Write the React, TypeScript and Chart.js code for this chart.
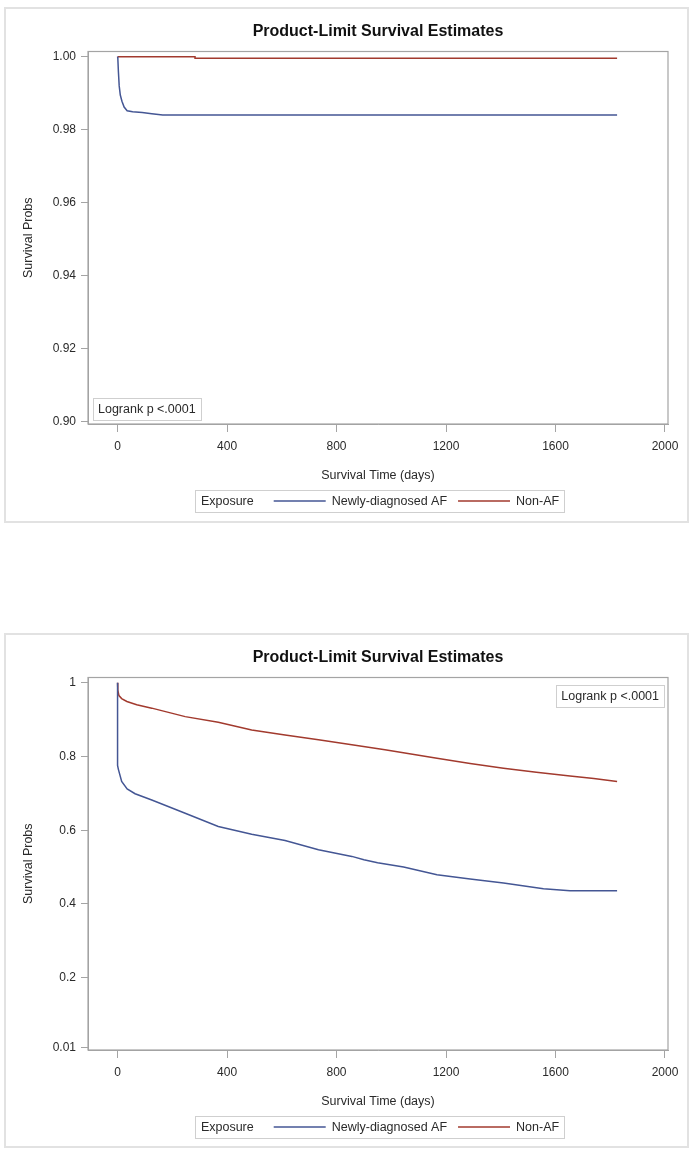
import React, { useEffect, useRef } from "react";
import { Chart, registerables } from "chart.js";

Chart.register(...registerables);

const FONT = "'Liberation Sans', Arial, Helvetica, sans-serif";

const chartTitle = "Product-Limit Survival Estimates";
const xAxisTitle = "Survival Time (days)";
const yAxisTitle = "Survival Probs";
const legendTitle = "Exposure";
const seriesNames = ["Newly-diagnosed AF", "Non-AF"];
const seriesColors = ["#445694", "#A23A2E"];
const logrankLabel = "Logrank p <.0001";

const xTickValues = [0, 400, 800, 1200, 1600, 2000];
const xTickLabels = ["0", "400", "800", "1200", "1600", "2000"];

const topYTickValues = [0.9, 0.92, 0.94, 0.96, 0.98, 1.0];
const topYTickLabels = ["0.90", "0.92", "0.94", "0.96", "0.98", "1.00"];
const bottomYTickValues = [0.01, 0.2, 0.4, 0.6, 0.8, 1];
const bottomYTickLabels = ["0.01", "0.2", "0.4", "0.6", "0.8", "1"];

// Top panel
const topAfDays = [0, 1, 3, 6, 10, 16, 24, 35, 55, 90, 125, 165, 1825];
const topAfSurv = [1.0, 0.9995, 0.996, 0.992, 0.9895, 0.9878, 0.9862, 0.9852, 0.9849, 0.9847, 0.9844, 0.984, 0.984];
const topNonAfDays = [0, 283, 283, 1825];
const topNonAfSurv = [1.0, 0.99995, 0.99955, 0.99955];

// Bottom panel
const bottomAfDays = [0, 0, 3, 15, 35, 64, 125, 247, 368, 490, 612, 734, 856, 900, 950, 1045, 1167, 1288, 1410, 1556, 1653, 1825];
const bottomAfSurv = [1.0, 0.776, 0.765, 0.732, 0.712, 0.699, 0.682, 0.646, 0.61, 0.589, 0.572, 0.547, 0.529, 0.52, 0.512, 0.5, 0.479, 0.468, 0.457, 0.441, 0.436, 0.436];
const bottomNonAfDays = [0, 1, 5, 15, 34, 70, 125, 247, 368, 490, 612, 734, 856, 977, 1100, 1167, 1288, 1410, 1530, 1653, 1740, 1825];
const bottomNonAfSurv = [1.0, 0.98, 0.965, 0.957, 0.949, 0.94, 0.931, 0.908, 0.893, 0.872, 0.858, 0.845, 0.832, 0.818, 0.803, 0.795, 0.781, 0.768, 0.757, 0.747, 0.74, 0.732];

const CANVAS_W = 700;
const CANVAS_H = 529;
const FRAME_COLOR = "#a4a4a4";
const TEXT_COLOR = "#2a2a2a";

type PanelProps = {
  top: number;
  afDays: number[];
  afSurv: number[];
  nonDays: number[];
  nonSurv: number[];
  yTickValues: number[];
  yTickLabels: string[];
  yMin: number;
  yMax: number;
  logrankCorner: "bottom-left" | "top-right";
};

function Panel(p: PanelProps) {
  const ref = useRef<HTMLCanvasElement>(null);
  useEffect(() => {
    const canvas = ref.current!;
    const decor = {
      id: "sasDecor",
      beforeDatasetsDraw(chart: any) {
        const { ctx, chartArea: a } = chart;
        ctx.save();
        ctx.strokeStyle = FRAME_COLOR;
        ctx.lineWidth = 1.2;
        ctx.strokeRect(a.left, a.top, a.right - a.left, a.bottom - a.top);
        ctx.restore();
      },
      afterDraw(chart: any) {
        const { ctx, chartArea: a } = chart;
        const cx = (a.left + a.right) / 2;
        ctx.save();
        // title
        ctx.font = `bold 16px ${FONT}`;
        ctx.fillStyle = "#111";
        ctx.textAlign = "center";
        ctx.textBaseline = "middle";
        ctx.fillText(chartTitle, cx, 32);

        // logrank box
        ctx.font = `12.5px ${FONT}`;
        ctx.textAlign = "left";
        const lw = ctx.measureText(logrankLabel).width + 10;
        const lh = 22;
        let lx: number, ly: number;
        if (p.logrankCorner === "bottom-left") {
          lx = a.left + 5;
          ly = a.bottom - 4 - lh;
        } else {
          lx = a.right - 4 - lw;
          ly = a.top + 7.5;
        }
        ctx.fillStyle = "#fff";
        ctx.fillRect(lx, ly, lw, lh);
        ctx.strokeStyle = "#cfcfcf";
        ctx.lineWidth = 1;
        ctx.strokeRect(Math.round(lx) + 0.5, Math.round(ly) + 0.5, Math.round(lw), lh);
        ctx.fillStyle = TEXT_COLOR;
        ctx.fillText(logrankLabel, lx + 5, ly + lh / 2 + 0.5);

        // legend
        const wTitle = ctx.measureText(legendTitle).width;
        const w1 = ctx.measureText(seriesNames[0]).width;
        const w2 = ctx.measureText(seriesNames[1]).width;
        const padL = 6, gapTitle = 20, lineLen = 52, gapLine = 6, gapItem = 11, padR = 5;
        const total = padL + wTitle + gapTitle + lineLen + gapLine + w1 + gapItem + lineLen + gapLine + w2 + padR;
        const bx = cx + 1.5 - total / 2;
        const by = 490;
        const bh = 22;
        const my = by + bh / 2;
        ctx.fillStyle = "#fff";
        ctx.fillRect(bx, by, total, bh);
        ctx.strokeStyle = "#cfcfcf";
        ctx.strokeRect(Math.round(bx) + 0.5, by + 0.5, Math.round(total), bh);
        let x = bx + padL;
        ctx.fillStyle = TEXT_COLOR;
        ctx.fillText(legendTitle, x, my + 0.5);
        x += wTitle + gapTitle;
        for (let i = 0; i < 2; i++) {
          ctx.strokeStyle = seriesColors[i];
          ctx.lineWidth = 1.5;
          ctx.beginPath();
          ctx.moveTo(x, my);
          ctx.lineTo(x + lineLen, my);
          ctx.stroke();
          x += lineLen + gapLine;
          ctx.fillStyle = TEXT_COLOR;
          ctx.fillText(seriesNames[i], x, my + 0.5);
          x += (i === 0 ? w1 : w2) + gapItem;
        }
        ctx.restore();
      },
    };

    const mk = (days: number[], surv: number[]) => days.map((d, i) => ({ x: d, y: surv[i] }));

    const chart = new Chart(canvas, {
      type: "line",
      data: {
        datasets: [
          {
            label: seriesNames[0],
            data: mk(p.afDays, p.afSurv),
            borderColor: seriesColors[0],
            borderWidth: 1.5,
            pointRadius: 0,
            fill: false,
            tension: 0,
          },
          {
            label: seriesNames[1],
            data: mk(p.nonDays, p.nonSurv),
            borderColor: seriesColors[1],
            borderWidth: 1.5,
            pointRadius: 0,
            fill: false,
            tension: 0,
          },
        ],
      },
      options: {
        animation: false,
        responsive: false,
        maintainAspectRatio: false,
        events: [],
        layout: { padding: { left: 20, right: 32, top: 51.5, bottom: CANVAS_H - 424 - 62 } },
        plugins: {
          legend: { display: false },
          title: { display: false },
          tooltip: { enabled: false },
        },
        scales: {
          x: {
            type: "linear",
            min: -108,
            max: 2011,
            afterBuildTicks: (s: any) => {
              s.ticks = xTickValues.map((v) => ({ value: v }));
            },
            afterFit: (s: any) => {
              s.height = 62;
            },
            grid: { drawOnChartArea: false, drawTicks: true, tickLength: 8, color: FRAME_COLOR },
            border: { display: true, color: FRAME_COLOR },
            ticks: {
              padding: 7,
              autoSkip: false,
              maxRotation: 0,
              color: TEXT_COLOR,
              font: { family: FONT, size: 12 },
              callback: (_v: any, i: number) => xTickLabels[i],
            },
            title: {
              display: true,
              text: xAxisTitle,
              color: TEXT_COLOR,
              font: { family: FONT, size: 12.5 },
              padding: { top: 0, bottom: 3 },
            },
          },
          y: {
            type: "linear",
            min: p.yMin,
            max: p.yMax,
            afterBuildTicks: (s: any) => {
              s.ticks = p.yTickValues.map((v) => ({ value: v }));
            },
            afterFit: (s: any) => {
              s.width = 68;
            },
            grid: { drawOnChartArea: false, drawTicks: true, tickLength: 7, color: FRAME_COLOR },
            border: { display: true, color: FRAME_COLOR },
            ticks: {
              padding: 5,
              autoSkip: false,
              color: TEXT_COLOR,
              font: { family: FONT, size: 12 },
              callback: (_v: any, i: number) => p.yTickLabels[i],
            },
            title: {
              display: true,
              text: yAxisTitle,
              color: TEXT_COLOR,
              font: { family: FONT, size: 12.5 },
              padding: { top: 1, bottom: 0 },
            },
          },
        },
      },
      plugins: [decor],
    } as any);
    return () => chart.destroy();
  }, []);
  return (
    <canvas
      ref={ref}
      width={CANVAS_W}
      height={CANVAS_H}
      style={{ position: "absolute", left: 0, top: p.top, display: "block" }}
    />
  );
}

export default function App() {
  const frame = (top: number, height: number) => (
    <div
      style={{
        position: "absolute",
        left: 4,
        top,
        width: 685,
        height,
        border: "2px solid #e2e2e2",
        boxSizing: "border-box",
        background: "#fff",
      }}
    />
  );
  return (
    <div style={{ position: "absolute", left: 0, top: 0, width: 700, height: 1155, background: "#fff" }}>
      {frame(7, 516)}
      {frame(633, 515)}
      <Panel
        top={0}
        afDays={topAfDays}
        afSurv={topAfSurv}
        nonDays={topNonAfDays}
        nonSurv={topNonAfSurv}
        yTickValues={topYTickValues}
        yTickLabels={topYTickLabels}
        yMin={0.8994}
        yMax={1.00142}
        logrankCorner="bottom-left"
      />
      <Panel
        top={626}
        afDays={bottomAfDays}
        afSurv={bottomAfSurv}
        nonDays={bottomNonAfDays}
        nonSurv={bottomNonAfSurv}
        yTickValues={bottomYTickValues}
        yTickLabels={bottomYTickLabels}
        yMin={0.004}
        yMax={1.0141}
        logrankCorner="top-right"
      />
    </div>
  );
}
